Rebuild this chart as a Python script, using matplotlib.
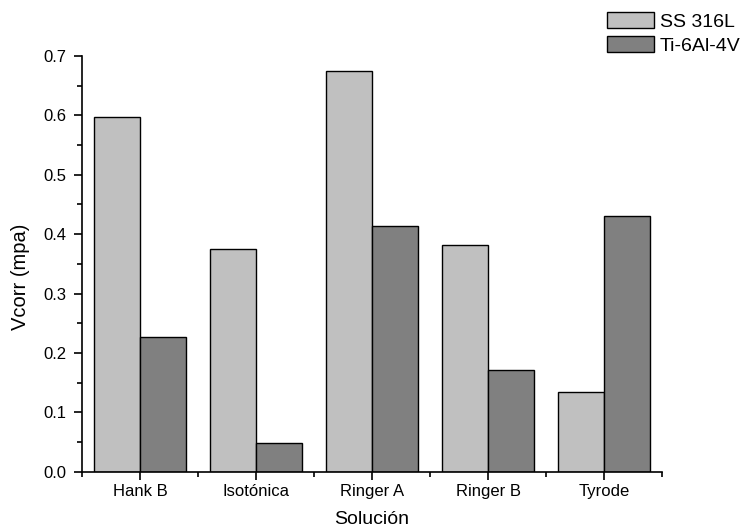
import numpy as np
import matplotlib.pyplot as plt
from matplotlib.ticker import MultipleLocator

plt.rcParams['font.family'] = ['Liberation Sans', 'DejaVu Sans']

solutions = ['Hank B', 'Isotónica', 'Ringer A', 'Ringer B', 'Tyrode']
ss316l = [0.597, 0.375, 0.674, 0.381, 0.134]
ti6al4v = [0.227, 0.048, 0.414, 0.172, 0.431]

x = np.arange(1, len(solutions) + 1)

fig = plt.figure(figsize=(7.51, 5.31), dpi=100)
ax = fig.add_axes([82 / 751, 1 - 471.7 / 531, 580 / 751, 415.8 / 531])

ax.bar(x, ss316l, width=-0.4, align='edge', color='#c0c0c0',
       edgecolor='black', linewidth=1, label='SS 316L')
ax.bar(x, ti6al4v, width=0.4, align='edge', color='#808080',
       edgecolor='black', linewidth=1, label='Ti-6Al-4V')

ax.set_xlim(0.5, 5.5)
ax.set_ylim(0, 0.7)
ax.set_xticks(x)
ax.set_xticklabels(solutions)
ax.xaxis.set_minor_locator(MultipleLocator(1, offset=0.5))
ax.yaxis.set_major_locator(MultipleLocator(0.1))
ax.yaxis.set_minor_locator(MultipleLocator(0.05))
ax.yaxis.set_major_formatter(plt.FormatStrFormatter('%.1f'))

for side in ('top', 'right'):
    ax.spines[side].set_visible(False)
ax.spines['left'].set_linewidth(1.2)
ax.spines['bottom'].set_linewidth(1.2)

ax.tick_params(which='major', direction='out', length=6, width=1.2, labelsize=12)
ax.tick_params(which='minor', direction='out', length=3.5, width=1.2)
ax.tick_params(axis='x', pad=3)
ax.tick_params(axis='y', pad=5)

ax.set_xlabel('Solución', fontsize=14)
ax.set_ylabel('Vcorr (mpa)', fontsize=14.5)
ax.xaxis.set_label_coords(0.5, -0.095)
ax.yaxis.set_label_coords(-0.090, 0.468)

fig.legend(loc='upper left', bbox_to_anchor=(607 / 751, 1 - 12 / 531),
           frameon=False, fontsize=14, borderpad=0, borderaxespad=0,
           handlelength=2.42, handleheight=0.92, handletextpad=0.3,
           labelspacing=0.25)

fig.savefig('out.png', dpi=100)
